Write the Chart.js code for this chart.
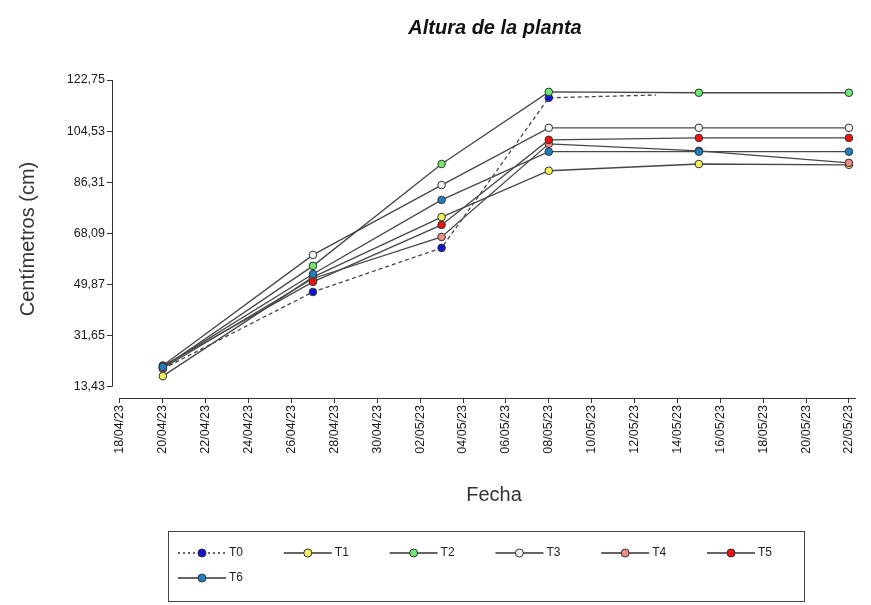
<!DOCTYPE html>
<html>
<head>
<meta charset="utf-8">
<script src="https://cdn.jsdelivr.net/npm/chart.js@4.4.1/dist/chart.umd.min.js"></script>
<style>
  body { margin: 0; background: #fff; }
  #caja { width: 871px; height: 605px; }
</style>
</head>
<body>
<div id="caja"><canvas id="grafico"></canvas></div>
<script>
// fechas de medición (dd/mm/aa)
const fechas = ['20/04/23', '27/04/23', '03/05/23', '08/05/23', '15/05/23', '22/05/23']
const fechasT0 = ['20/04/23', '27/04/23', '03/05/23', '08/05/23', '13/05/23']

// altura de la planta en cm por tratamiento
const t0 = [19.8, 47.2, 62.9, 116.4, 117.4]
const t1 = [17.2, 52.5, 73.9, 90.4, 92.8, 92.5]
const t2 = [20.3, 56.5, 92.8, 118.5, 118.2, 118.2]
const t3 = [21.0, 60.4, 85.3, 105.7, 105.7, 105.7]
const t4 = [20.0, 52.0, 66.8, 100.0, 97.5, 93.2]
const t5 = [20.8, 50.8, 71.1, 101.4, 102.1, 102.1]
const t6 = [20.5, 53.6, 80.0, 97.2, 97.2, 97.2]

const nombres = ['T0', 'T1', 'T2', 'T3', 'T4', 'T5', 'T6']
const colores = ['#1414d8', '#f4f05a', '#6fe86f', '#f2f2f2', '#f08a84', '#f01010', '#1f7fc4']

// etiquetas del eje
const ticksX = ['18/04/23', '20/04/23', '22/04/23', '24/04/23', '26/04/23', '28/04/23', '30/04/23',
  '02/05/23', '04/05/23', '06/05/23', '08/05/23', '10/05/23', '12/05/23', '14/05/23',
  '16/05/23', '18/05/23', '20/05/23', '22/05/23']
const ticksY = [13.43, 31.65, 49.87, 68.09, 86.31, 104.53, 122.75]

const fuente = '"Liberation Sans", Arial, sans-serif'

// días desde el 18/04/23
function dia(s) {
  const p = s.split('/')
  const d = Date.UTC(2000 + parseInt(p[2]), parseInt(p[1]) - 1, parseInt(p[0]))
  return Math.round((d - Date.UTC(2023, 3, 18)) / 86400000)
}

function puntos(fs, vs) {
  return vs.map((v, i) => ({ x: dia(fs[i]), y: v }))
}

const series = [t0, t1, t2, t3, t4, t5, t6]
const datasets = series.map((vs, i) => ({
  label: nombres[i],
  data: puntos(i === 0 ? fechasT0 : fechas, vs),
  borderColor: '#474747',
  borderWidth: 1.3,
  borderDash: i === 0 ? [4, 3] : [],
  pointRadius: i === 0 ? [3.8, 3.8, 3.8, 3.8, 0] : 3.8,
  pointBackgroundColor: colores[i],
  pointBorderColor: '#333',
  pointBorderWidth: 1,
  tension: 0,
  fill: false,
  order: 6 - i
}))

// títulos y ejes dibujados a mano, separados como en el original
const ejes = {
  id: 'ejes',
  afterDraw(chart) {
    const ctx = chart.ctx
    const x = chart.scales.x
    const y = chart.scales.y
    ctx.save()
    ctx.strokeStyle = '#333'
    ctx.lineWidth = 1
    ctx.beginPath()
    const xl = Math.round(chart.chartArea.left) + 0.5
    ctx.moveTo(xl, y.getPixelForValue(ticksY[0]))
    ctx.lineTo(xl, y.getPixelForValue(ticksY[ticksY.length - 1]))
    const yb = Math.round(chart.chartArea.bottom) + 0.5
    ctx.moveTo(x.getPixelForValue(0), yb)
    ctx.lineTo(chart.chartArea.right, yb)
    ctx.stroke()

    ctx.textAlign = 'center'
    ctx.textBaseline = 'middle'
    ctx.fillStyle = '#111'
    ctx.font = 'italic bold 20px ' + fuente
    ctx.fillText('Altura de la planta', 495, 28)
    ctx.fillStyle = '#333'
    ctx.font = '20px ' + fuente
    ctx.fillText('Fecha', 494, 495)
    ctx.restore()
  }
}

// leyenda con línea y marcador
const leyenda = {
  id: 'leyenda',
  afterDraw(chart) {
    const ctx = chart.ctx
    ctx.save()
    ctx.strokeStyle = '#444'
    ctx.lineWidth = 1
    ctx.strokeRect(168.5, 531.5, 636, 70)
    ctx.font = '12px ' + fuente
    ctx.textBaseline = 'middle'
    chart.data.datasets.forEach((ds, i) => {
      const fila = Math.floor(i / 6)
      const cx = 202 + (i % 6) * 105.8
      const cy = 553 + fila * 25
      ctx.strokeStyle = '#333'
      ctx.lineWidth = 1.3
      ctx.setLineDash(i === 0 ? [2, 3] : [])
      ctx.beginPath()
      ctx.moveTo(cx - 24, cy)
      ctx.lineTo(cx + 24, cy)
      ctx.stroke()
      ctx.setLineDash([])
      ctx.lineWidth = 1
      ctx.beginPath()
      ctx.arc(cx, cy, 4, 0, Math.PI * 2)
      ctx.fillStyle = ds.pointBackgroundColor
      ctx.fill()
      ctx.stroke()
      ctx.fillStyle = '#222'
      ctx.fillText(ds.label, cx + 27, cy)
    })
    ctx.restore()
  }
}

new Chart(document.getElementById('grafico').getContext('2d'), {
  type: 'line',
  data: { datasets: datasets },
  plugins: [ejes, leyenda],
  options: {
    responsive: true,
    maintainAspectRatio: false,
    animation: false,
    layout: { padding: { left: 0, right: 15, top: 80, bottom: 95 } },
    plugins: {
      legend: { display: false },
      tooltip: { enabled: false },
      title: { display: false }
    },
    scales: {
      x: {
        type: 'linear',
        min: -0.373,
        max: 34.33,
        afterBuildTicks: s => { s.ticks = ticksX.map(t => ({ value: dia(t) })) },
        afterFit: s => { s.height = 112 },
        ticks: {
          autoSkip: false,
          minRotation: 90,
          maxRotation: 90,
          padding: 2,
          color: '#1a1a1a',
          font: { family: fuente, size: 12.5 },
          callback: v => ticksX[ticksX.findIndex(t => dia(t) === v)]
        },
        grid: { drawOnChartArea: false, tickLength: 5, color: '#333' },
        border: { display: false }
      },
      y: {
        type: 'linear',
        min: 9.4,
        max: 122.75,
        afterBuildTicks: s => { s.ticks = ticksY.map(v => ({ value: v })) },
        afterFit: s => { s.width = 112 },
        ticks: {
          color: '#1a1a1a',
          font: { family: fuente, size: 12.5 },
          padding: 2,
          callback: v => v.toFixed(2).replace('.', ',')
        },
        grid: { drawOnChartArea: false, tickLength: 5, color: '#333' },
        border: { display: false },
        title: {
          display: true,
          text: 'Centímetros (cm)',
          color: '#333',
          font: { family: fuente, size: 20 },
          padding: { top: 16, bottom: 0 }
        }
      }
    }
  }
})
</script>
</body>
</html>
